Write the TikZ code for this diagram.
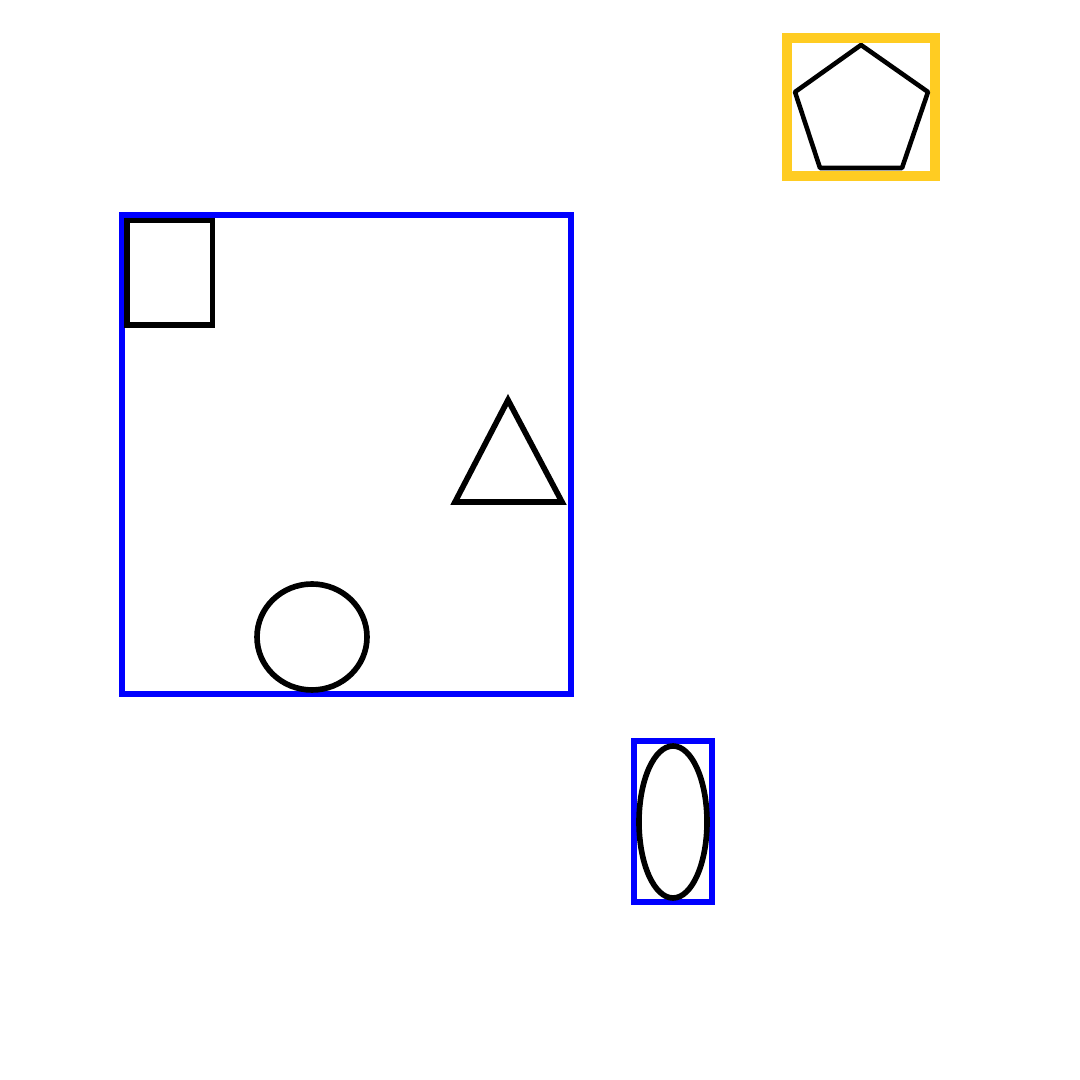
\documentclass[tikz,border=0pt]{standalone}
\usetikzlibrary{positioning}
\definecolor{gold}{RGB}{255,204,34}

\begin{document}
\begin{tikzpicture}[
  frame/.style={draw=blue,line width=1.5pt},
  outline/.style={draw=black,line width=1.6pt,line join=miter},
  thin outline/.style={draw=black,line width=1.3pt,line join=round},
]
  \useasboundingbox (0,0) rectangle (10.8,10.8);

  % top right: pentagon in a gold box
  \draw[gold,line width=2.6pt] (7.87,10.42) rectangle (9.35,9.04);
  \draw[thin outline] (8.61,10.35) -- (9.28,9.88) -- (9.02,9.12) -- (8.20,9.12) -- (7.95,9.88) -- cycle;

  % large blue frame with three shapes
  \draw[frame] (1.22,8.65) rectangle (5.71,3.86);
  \draw[outline] (1.27,8.595) rectangle (2.125,7.55);
  \draw[outline] (5.08,6.80) -- (5.62,5.78) -- (4.55,5.78) -- cycle;
  \draw[outline] (3.12,4.43) ellipse [x radius=0.55,y radius=0.53];

  % small blue frame with an ellipse
  \draw[frame] (6.34,3.39) rectangle (7.12,1.78);
  \draw[outline] (6.73,2.58) ellipse [x radius=0.34,y radius=0.76];
\end{tikzpicture}
\end{document}
